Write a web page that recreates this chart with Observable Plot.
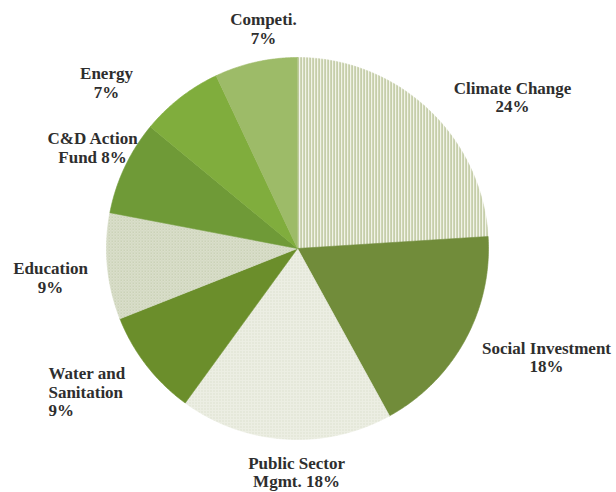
<!DOCTYPE html>
<html>
<head>
<meta charset="utf-8">
<script src="https://cdn.jsdelivr.net/npm/d3@7"></script>
<script src="https://cdn.jsdelivr.net/npm/@observablehq/plot@0.6"></script>
<style>
  html, body { margin: 0; padding: 0; background: #fff; }
  #chart { width: 616px; height: 492px; }
</style>
</head>
<body>
<div id="chart"></div>
<script>
// ---- data ----
const categories = ["Climate Change", "Social Investment", "Public Sector Mgmt.", "Water and Sanitation", "Education", "C&D Action Fund", "Energy", "Competi."];
const values = [24, 18, 18, 9, 9, 8, 7, 7];
const labelTexts = ["Climate Change\n24%", "Social Investment\n18%", "Public Sector\nMgmt. 18%", "Water and\nSanitation\n9%", "Education\n9%", "C&D Action\nFund 8%", "Energy\n7%", "Competi.\n7%"];

// ---- styling / layout (not data) ----
const fills = ["url(#stripes)", "#718c3a", "url(#dotsLight)", "#6b8e2b", "url(#dotsEdu)", "#6f9a37", "#80ad3d", "#9dbb68"];
// label anchor positions in pie-radius units (x right, y up)
const labelPos = [[1.126, 0.793], [1.304, -0.568], [-0.005, -1.170], [-1.304, -0.749], [-1.293, -0.152], [-1.073, 0.529], [-1.0, 0.869], [-0.178, 1.152]];
const labelAnchor = ["middle", "middle", "middle", "start", "middle", "middle", "middle", "middle"];

const R = 191, CX = 297, CY = 248, W = 616, H = 492;

// build slice polygons from the values
const total = d3.sum(values);
const points = [];
let acc = 0;
values.forEach((v, i) => {
  const a0 = acc / total * 2 * Math.PI;
  acc += v;
  const a1 = acc / total * 2 * Math.PI;
  points.push({name: categories[i], fill: fills[i], x: 0, y: 0});
  const n = Math.max(2, Math.ceil((a1 - a0) / (Math.PI / 360)));
  for (let k = 0; k <= n; k++) {
    const a = a0 + (a1 - a0) * k / n;
    points.push({name: categories[i], fill: fills[i], x: Math.sin(a), y: Math.cos(a)});
  }
});

const labels = labelTexts.map((t, i) => ({text: t, x: labelPos[i][0], y: labelPos[i][1], anchor: labelAnchor[i]}));
const textOpts = {
  x: "x", y: "y", text: "text",
  fontFamily: "'Liberation Serif', 'Times New Roman', serif", fontWeight: "bold", fontSize: 17,
  fill: "#2e2e2e", lineHeight: 1.1, lineAnchor: "middle"
};

const svg = Plot.plot({
  width: W, height: H,
  margin: 0,
  x: {domain: [-CX / R, (W - CX) / R], axis: null},
  y: {domain: [-(H - CY) / R, CY / R], axis: null},
  color: {type: "identity"},
  style: {background: "#fff", overflow: "visible"},
  marks: [
    Plot.line(points, {x: "x", y: "y", z: "name", fill: "fill", stroke: "fill", strokeWidth: 0.6, curve: "linear-closed"}),
    Plot.text(labels.filter(d => d.anchor === "middle"), {...textOpts, textAnchor: "middle"}),
    Plot.text(labels.filter(d => d.anchor === "start"), {...textOpts, textAnchor: "start"})
  ]
});

// texture patterns
const ns = "http://www.w3.org/2000/svg";
const defs = document.createElementNS(ns, "defs");
defs.innerHTML = `
  <pattern id="stripes" patternUnits="userSpaceOnUse" width="3" height="3">
    <rect width="3" height="3" fill="#fbfbf6"/>
    <rect x="0" width="1.2" height="3" fill="#a2b077"/>
  </pattern>
  <pattern id="dotsLight" patternUnits="userSpaceOnUse" width="3" height="3">
    <rect width="3" height="3" fill="#eceee3"/>
    <rect x="0" y="0" width="1" height="1" fill="#d0d5bf"/>
  </pattern>
  <pattern id="dotsEdu" patternUnits="userSpaceOnUse" width="3" height="3">
    <rect width="3" height="3" fill="#e9ecdf"/>
    <rect x="0" y="0" width="1.5" height="1.5" fill="#b6c19c"/>
    <rect x="1.5" y="1.5" width="1.5" height="1.5" fill="#c9d0b5"/>
  </pattern>`;
svg.insertBefore(defs, svg.firstChild);

document.getElementById("chart").appendChild(svg);
</script>
</body>
</html>
